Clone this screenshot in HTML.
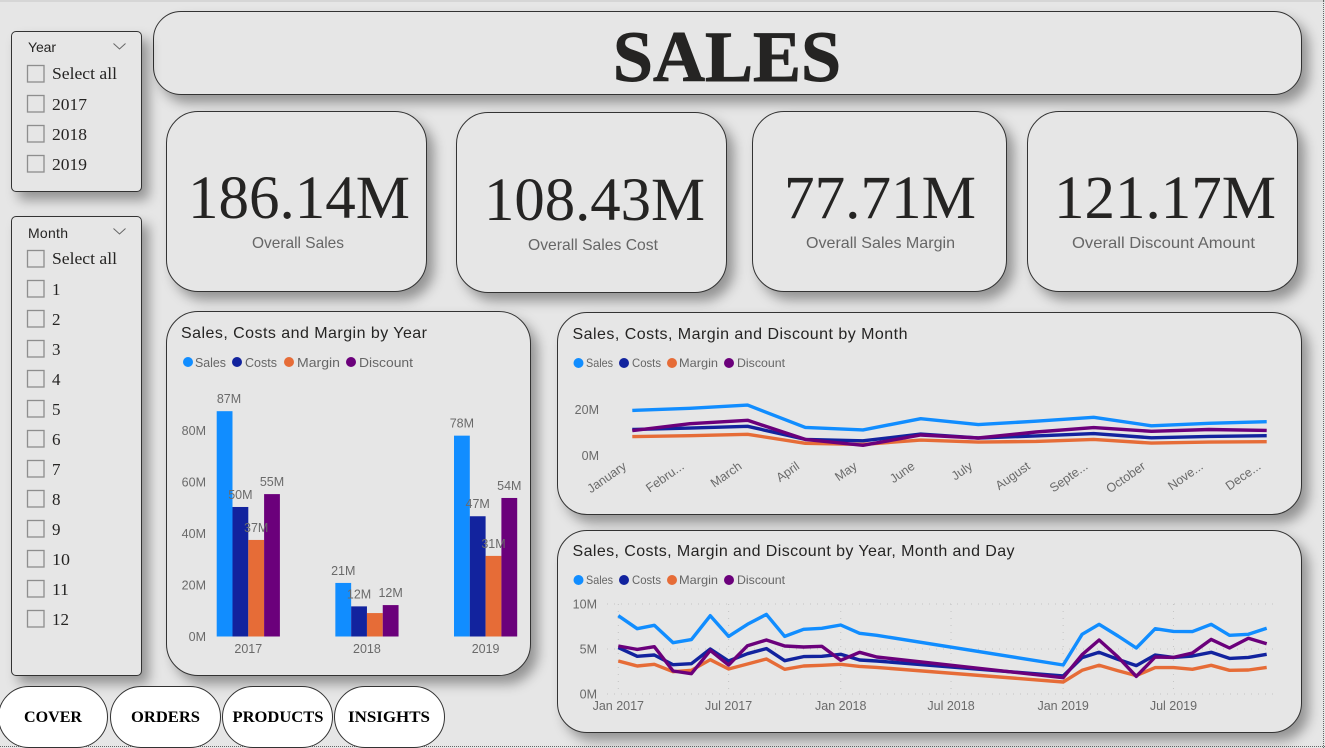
<!DOCTYPE html>
<html lang="en">
<head>
<meta charset="utf-8">
<title>Sales dashboard</title>
<style>
html,body{margin:0;padding:0;width:1325px;height:748px;overflow:hidden;background:#e6e6e6;}
#page{position:relative;width:1325px;height:748px;background:#e6e6e6;overflow:hidden;font-family:"Liberation Sans",sans-serif;}
.panel{position:absolute;box-sizing:border-box;background:#e6e6e6;border:1px solid #333;box-shadow:7px 8px 12px rgba(0,0,0,.36);}
.nav{position:absolute;box-sizing:border-box;top:686px;height:62px;background:#fff;border:1px solid #333;border-radius:31px;}
svg{position:absolute;left:0;top:0;}
.ser{font-family:"Liberation Serif",serif;}
.hdr{font-size:16px;fill:#252423;}
.sl{font-family:"Liberation Serif",serif;font-size:17px;fill:#252423;}
.slh{font-size:14px;fill:#252423;}
.lg{font-size:13px;fill:#666;}
.lgs{font-size:12px;fill:#666;}
.kv{font-family:"Liberation Serif",serif;font-size:61px;fill:#252423;}
.kl{font-size:16px;fill:#666;}
.nt{font-family:"Liberation Serif",serif;font-weight:bold;font-size:16px;fill:#000;}
.ax{font-size:12.5px;fill:#6a6a6a;}
.cb{fill:none;stroke:#8e8e8e;stroke-width:1.3;}
</style>
</head>
<body>
<div id="page">
  <div style="position:absolute;left:0;top:0;width:1325px;height:2px;background:#d6d6d6"></div>
  <div style="position:absolute;left:1323px;top:0;height:748px;border-left:1px dotted #666"></div>
  <div style="position:absolute;left:0;top:746px;width:1325px;border-top:1px dotted #666"></div>

  <div class="panel" style="left:153px;top:11px;width:1149px;height:84px;border-radius:28px"></div>
  <div class="panel" style="left:11px;top:31px;width:131px;height:161px;border-radius:5px"></div>
  <div class="panel" style="left:11px;top:216px;width:131px;height:460px;border-radius:5px"></div>
  <div class="panel" style="left:166px;top:111px;width:261px;height:181px;border-radius:32px"></div>
  <div class="panel" style="left:456px;top:112px;width:271px;height:181px;border-radius:32px"></div>
  <div class="panel" style="left:752px;top:111px;width:255px;height:181px;border-radius:32px"></div>
  <div class="panel" style="left:1027px;top:111px;width:271px;height:181px;border-radius:32px"></div>
  <div class="panel" style="left:166px;top:311px;width:365px;height:365px;border-radius:32px"></div>
  <div class="panel" style="left:557px;top:312px;width:745px;height:203px;border-radius:30px"></div>
  <div class="panel" style="left:557px;top:530px;width:745px;height:203px;border-radius:30px"></div>

  <div class="nav" style="left:-2px;width:110px"></div>
  <div class="nav" style="left:110px;width:111px"></div>
  <div class="nav" style="left:222px;width:111px"></div>
  <div class="nav" style="left:334px;width:111px"></div>

  <svg id="art" width="1325" height="748" viewBox="0 0 1325 748">
    <text class="ser" x="727" y="81" text-anchor="middle" font-size="72" font-weight="bold" fill="#252423" stroke="#252423" stroke-width="0.9">SALES</text>

    <text class="kv" x="188" y="218" textLength="222" lengthAdjust="spacingAndGlyphs">186.14M</text>
    <text class="kl" x="252" y="248" textLength="92" lengthAdjust="spacingAndGlyphs">Overall Sales</text>
    <text class="kv" x="484" y="220" textLength="221" lengthAdjust="spacingAndGlyphs">108.43M</text>
    <text class="kl" x="528" y="250" textLength="130" lengthAdjust="spacingAndGlyphs">Overall Sales Cost</text>
    <text class="kv" x="784" y="218" textLength="192" lengthAdjust="spacingAndGlyphs">77.71M</text>
    <text class="kl" x="806" y="248" textLength="149" lengthAdjust="spacingAndGlyphs">Overall Sales Margin</text>
    <text class="kv" x="1054" y="218" textLength="222" lengthAdjust="spacingAndGlyphs">121.17M</text>
    <text class="kl" x="1072" y="248" textLength="183" lengthAdjust="spacingAndGlyphs">Overall Discount Amount</text>

    <text class="slh" x="28" y="52" textLength="28">Year</text>
    <path d="M113.5 43.5l6 5.5 6-5.5" fill="none" stroke="#666" stroke-width="1"/>
    <g><rect class="cb" x="27.5" y="65.5" width="16.5" height="16.5"/><text class="sl" x="52" y="79" textLength="65" lengthAdjust="spacingAndGlyphs">Select all</text></g>
    <g><rect class="cb" x="27.5" y="95.5" width="16.5" height="16.5"/><text class="sl" x="52" y="110" textLength="35" lengthAdjust="spacingAndGlyphs">2017</text></g>
    <g><rect class="cb" x="27.5" y="125.5" width="16.5" height="16.5"/><text class="sl" x="52" y="140" textLength="35" lengthAdjust="spacingAndGlyphs">2018</text></g>
    <g><rect class="cb" x="27.5" y="155.5" width="16.5" height="16.5"/><text class="sl" x="52" y="170" textLength="35" lengthAdjust="spacingAndGlyphs">2019</text></g>

    <text class="slh" x="28" y="238" textLength="40">Month</text>
    <path d="M113.5 228.5l6 5.5 6-5.5" fill="none" stroke="#666" stroke-width="1"/>
    <g><rect class="cb" x="27.5" y="250.5" width="16.5" height="16.5"/><text class="sl" x="52" y="264" textLength="65" lengthAdjust="spacingAndGlyphs">Select all</text></g>
    <g><rect class="cb" x="27.5" y="280.5" width="16.5" height="16.5"/><text class="sl" x="52" y="295">1</text></g>
    <g><rect class="cb" x="27.5" y="310.5" width="16.5" height="16.5"/><text class="sl" x="52" y="325">2</text></g>
    <g><rect class="cb" x="27.5" y="340.5" width="16.5" height="16.5"/><text class="sl" x="52" y="355">3</text></g>
    <g><rect class="cb" x="27.5" y="370.5" width="16.5" height="16.5"/><text class="sl" x="52" y="385">4</text></g>
    <g><rect class="cb" x="27.5" y="400.5" width="16.5" height="16.5"/><text class="sl" x="52" y="415">5</text></g>
    <g><rect class="cb" x="27.5" y="430.5" width="16.5" height="16.5"/><text class="sl" x="52" y="445">6</text></g>
    <g><rect class="cb" x="27.5" y="460.5" width="16.5" height="16.5"/><text class="sl" x="52" y="475">7</text></g>
    <g><rect class="cb" x="27.5" y="490.5" width="16.5" height="16.5"/><text class="sl" x="52" y="505">8</text></g>
    <g><rect class="cb" x="27.5" y="520.5" width="16.5" height="16.5"/><text class="sl" x="52" y="535">9</text></g>
    <g><rect class="cb" x="27.5" y="550.5" width="16.5" height="16.5"/><text class="sl" x="52" y="565" textLength="18" lengthAdjust="spacingAndGlyphs">10</text></g>
    <g><rect class="cb" x="27.5" y="580.5" width="16.5" height="16.5"/><text class="sl" x="52" y="595" textLength="17" lengthAdjust="spacingAndGlyphs">11</text></g>
    <g><rect class="cb" x="27.5" y="610.5" width="16.5" height="16.5"/><text class="sl" x="52" y="625" textLength="17" lengthAdjust="spacingAndGlyphs">12</text></g>

    <text class="hdr" x="181" y="338" textLength="246">Sales, Costs and Margin by Year</text>
    <g>
      <g><circle cx="188" cy="362" r="5" fill="#118DFF"/><text class="lg" x="195" y="367" textLength="31" lengthAdjust="spacingAndGlyphs">Sales</text></g>
      <g><circle cx="237" cy="362" r="5" fill="#12239E"/><text class="lg" x="245" y="367" textLength="32" lengthAdjust="spacingAndGlyphs">Costs</text></g>
      <g><circle cx="289" cy="362" r="5" fill="#E66C37"/><text class="lg" x="297" y="367" textLength="43" lengthAdjust="spacingAndGlyphs">Margin</text></g>
      <g><circle cx="351" cy="362" r="5" fill="#6B007B"/><text class="lg" x="359" y="367" textLength="54" lengthAdjust="spacingAndGlyphs">Discount</text></g>
    </g>

    <text class="hdr" x="572.5" y="339" textLength="335">Sales, Costs, Margin and Discount by Month</text>
    <g>
      <g><circle cx="578.5" cy="363" r="5" fill="#118DFF"/><text class="lgs" x="586" y="367" textLength="27" lengthAdjust="spacingAndGlyphs">Sales</text></g>
      <g><circle cx="624" cy="363" r="5" fill="#12239E"/><text class="lgs" x="632" y="367" textLength="29" lengthAdjust="spacingAndGlyphs">Costs</text></g>
      <g><circle cx="672" cy="363" r="5" fill="#E66C37"/><text class="lgs" x="679" y="367" textLength="39" lengthAdjust="spacingAndGlyphs">Margin</text></g>
      <g><circle cx="729" cy="363" r="5" fill="#6B007B"/><text class="lgs" x="737" y="367" textLength="48" lengthAdjust="spacingAndGlyphs">Discount</text></g>
    </g>

    <text class="hdr" x="572.5" y="556" textLength="442">Sales, Costs, Margin and Discount by Year, Month and Day</text>
    <g>
      <g><circle cx="578.5" cy="580" r="5" fill="#118DFF"/><text class="lgs" x="586" y="584" textLength="27" lengthAdjust="spacingAndGlyphs">Sales</text></g>
      <g><circle cx="624" cy="580" r="5" fill="#12239E"/><text class="lgs" x="632" y="584" textLength="29" lengthAdjust="spacingAndGlyphs">Costs</text></g>
      <g><circle cx="672" cy="580" r="5" fill="#E66C37"/><text class="lgs" x="679" y="584" textLength="39" lengthAdjust="spacingAndGlyphs">Margin</text></g>
      <g><circle cx="729" cy="580" r="5" fill="#6B007B"/><text class="lgs" x="737" y="584" textLength="48" lengthAdjust="spacingAndGlyphs">Discount</text></g>
    </g>

    <text class="nt" x="24" y="722" textLength="58" lengthAdjust="spacingAndGlyphs">COVER</text>
    <text class="nt" x="131" y="722" textLength="69" lengthAdjust="spacingAndGlyphs">ORDERS</text>
    <text class="nt" x="232.5" y="722" textLength="91" lengthAdjust="spacingAndGlyphs">PRODUCTS</text>
    <text class="nt" x="348" y="722" textLength="82" lengthAdjust="spacingAndGlyphs">INSIGHTS</text>

    <g id="bar-chart"></g>
    <g id="month-chart"></g>
    <g id="day-chart"></g>
  </svg>
</div>

<script>
const seriesNames = ['Sales', 'Costs', 'Margin', 'Discount'];
const seriesColors = ['#118DFF', '#12239E', '#E66C37', '#6B007B'];

const yearCategories = ['2017', '2018', '2019'];
const yearSales = [87.5, 20.8, 78];
const yearCosts = [50.3, 11.7, 46.7];
const yearMargin = [37.5, 9.1, 31.3];
const yearDiscount = [55.3, 12.2, 53.8];
const yearLabelsSales = ['87M', '21M', '78M'];
const yearLabelsCosts = ['50M', '12M', '47M'];
const yearLabelsMargin = ['37M', '', '31M'];
const yearLabelsDiscount = ['55M', '12M', '54M'];
const yearTicks = [0, 20, 40, 60, 80];

const monthCategories = ['January', 'Febru...', 'March', 'April', 'May', 'June', 'July', 'August', 'Septe...', 'October', 'Nove...', 'Dece...'];
const monthSales = [19.7, 20.6, 22.0, 12.3, 11.2, 16.1, 13.5, 15.0, 16.7, 13.0, 14.1, 14.8];
const monthCosts = [11.4, 12.0, 12.8, 7.1, 6.5, 9.4, 7.7, 8.6, 9.6, 7.8, 8.4, 8.7];
const monthMargin = [8.3, 8.7, 9.3, 5.4, 4.9, 6.8, 5.9, 6.2, 7.1, 5.5, 5.9, 6.1];
const monthDiscount = [10.9, 13.9, 15.4, 7.1, 4.5, 9.0, 7.7, 10.3, 12.2, 10.6, 11.4, 11.0];
const monthTicks = [0, 20];

const dayDates = ['2017-01', '2017-02', '2017-03', '2017-04', '2017-05', '2017-06', '2017-07', '2017-08', '2017-09', '2017-10', '2017-11', '2017-12', '2018-01', '2018-02', '2018-03', '2019-01', '2019-02', '2019-03', '2019-04', '2019-05', '2019-06', '2019-07', '2019-08', '2019-09', '2019-10', '2019-11', '2019-12'];
const daySales = [8.7, 7.26, 7.63, 5.7, 6.04, 8.7, 6.4, 7.74, 8.85, 6.4, 7.19, 7.3, 7.67, 6.74, 6.52, 3.22, 6.63, 7.74, 6.44, 5.11, 7.26, 6.96, 6.93, 7.74, 6.52, 6.63, 7.3];
const dayCosts = [5.15, 4.19, 4.33, 3.26, 3.37, 5.0, 3.67, 4.48, 5.04, 3.7, 4.15, 4.19, 4.41, 3.78, 3.67, 2.0, 4.04, 4.63, 3.85, 3.15, 4.33, 4.07, 4.22, 4.63, 3.96, 4.07, 4.41];
const dayMargin = [3.67, 3.11, 3.3, 2.48, 2.63, 3.81, 2.78, 3.33, 3.89, 2.74, 3.11, 3.19, 3.3, 3.07, 2.96, 1.33, 2.63, 3.19, 2.59, 2.04, 2.93, 2.93, 2.74, 3.19, 2.63, 2.67, 2.96];
const dayDiscount = [5.33, 4.96, 5.26, 2.56, 2.26, 4.85, 3.22, 5.37, 6.0, 5.33, 5.22, 5.3, 3.74, 4.63, 4.11, 1.81, 4.37, 6.0, 4.11, 1.96, 4.11, 4.07, 4.56, 6.07, 5.11, 6.19, 5.59];
const dayYTicks = [0, 5, 10];
const dayXTicks = ['2017-01', '2017-07', '2018-01', '2018-07', '2019-01', '2019-07'];
const dayXTickLabels = ['Jan 2017', 'Jul 2017', 'Jan 2018', 'Jul 2018', 'Jan 2019', 'Jul 2019'];

const NS = 'http://www.w3.org/2000/svg';
function mk(tag, attrs, parent) {
  const el = document.createElementNS(NS, tag);
  for (const k in attrs) el.setAttribute(k, attrs[k]);
  parent.appendChild(el);
  return el;
}
function label(parent, x, y, txt, anchor, cls) {
  const t = mk('text', {x: x, y: y, 'text-anchor': anchor, class: cls || 'ax'}, parent);
  t.textContent = txt;
  return t;
}

/* ---------- bar chart ---------- */
(function () {
  const root = document.getElementById('bar-chart');
  const series = [yearSales, yearCosts, yearMargin, yearDiscount];
  const texts = [yearLabelsSales, yearLabelsCosts, yearLabelsMargin, yearLabelsDiscount];
  const y = v => 636.5 - v * 2.575;
  const groupX = i => 216.7 + i * 118.65;
  const barW = 15.8;
  yearTicks.forEach(v => {
    const t = label(root, 206, y(v) + 4.5, v + 'M', 'end');
    
    
  });
  yearCategories.forEach((c, i) => {
    const t = label(root, groupX(i) + barW * 2, 653, c, 'middle');
    
    
  });
  series.forEach((vals, s) => {
    vals.forEach((v, i) => {
      const r = mk('rect', {x: groupX(i) + s * barW, y: y(v), width: barW, height: y(0) - y(v), fill: seriesColors[s]}, root);
      
      
    });
  });
  texts.forEach((vals, s) => {
    vals.forEach((txt, i) => {
      if (!txt) return;
      const cx = Math.max(groupX(i) + s * barW + barW / 2, 229);
      const t = label(root, cx, y(series[s][i]) - 8, txt, 'middle');
      
      
    });
  });
})();

/* ---------- month line chart ---------- */
(function () {
  const root = document.getElementById('month-chart');
  const series = [monthSales, monthCosts, monthMargin, monthDiscount];
  const x = i => 632.3 + i * (1266.7 - 632.3) / (monthCategories.length - 1);
  const y = v => 455.7 - v * 2.3;
  monthTicks.forEach(v => {
    const t = label(root, 599, y(v) + 4.5, v + 'M', 'end');
    
    
  });
  monthCategories.forEach((c, i) => {
    const px = x(i) - 5, py = 468;
    const t = label(root, px, py, c, 'end');
    t.setAttribute('transform', 'rotate(-35 ' + px + ' ' + py + ')');
    
    
  });
  series.forEach((vals, s) => {
    const d = vals.map((v, i) => (i ? 'L' : 'M') + x(i).toFixed(1) + ' ' + y(v).toFixed(1)).join('');
    const p = mk('path', {d: d, fill: 'none', stroke: seriesColors[s], 'stroke-width': 3.4, 'stroke-linejoin': 'round'}, root);
    
    
  });
})();

/* ---------- day line chart ---------- */
(function () {
  const root = document.getElementById('day-chart');
  const series = [daySales, dayCosts, dayMargin, dayDiscount];
  const t = s => Date.UTC(+s.slice(0, 4), +s.slice(5, 7) - 1, 1);
  const t0 = t(dayDates[0]), t1 = t(dayDates[dayDates.length - 1]);
  const x = s => 618.3 + (t(s) - t0) / (t1 - t0) * (1266.7 - 618.3);
  const y = v => 694 - v * 9;
  dayYTicks.forEach(v => {
    const g = mk('line', {x1: 607, x2: 1275, y1: y(v), y2: y(v), stroke: '#c4c4c4', 'stroke-width': 1, 'stroke-dasharray': '1 6'}, root);
    
    
    const l = label(root, 597, y(v) + 4.5, v + 'M', 'end');
    
    
  });
  dayXTicks.forEach((s, i) => {
    const g = mk('line', {x1: x(s), x2: x(s), y1: y(10), y2: y(0), stroke: '#c4c4c4', 'stroke-width': 1, 'stroke-dasharray': '1 6'}, root);
    
    
    const l = label(root, x(s), 710, dayXTickLabels[i], 'middle');
    
    
  });
  series.forEach((vals, s) => {
    const d = vals.map((v, i) => (i ? 'L' : 'M') + x(dayDates[i]).toFixed(1) + ' ' + y(v).toFixed(1)).join('');
    const p = mk('path', {d: d, fill: 'none', stroke: seriesColors[s], 'stroke-width': 3.4, 'stroke-linejoin': 'round'}, root);
    
    
  });
})();
</script>
</body>
</html>
